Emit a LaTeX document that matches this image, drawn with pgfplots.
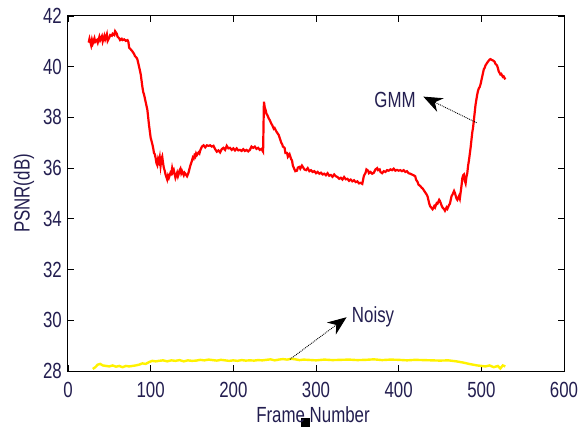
\documentclass[border=0pt]{standalone}
\usepackage{pgfplots}
\pgfplotsset{compat=1.18}
\usepackage{fontspec}
\setmainfont[FakeStretch=0.77]{Liberation Sans}
\usetikzlibrary{arrows.meta}
\definecolor{txt}{RGB}{35,30,80}
\begin{document}
\begin{tikzpicture}[font=\fontsize{22}{24}\selectfont]
\useasboundingbox (-68bp,-58bp) rectangle (518bp,371bp);
\begin{axis}[
  scale only axis, width=496bp, height=355bp,
  xmin=0, xmax=600, ymin=28, ymax=42,
  xtick={0,100,...,600}, ytick={28,30,...,42},
  tick align=inside, major tick length=6bp,
  axis line style={line width=1bp, black},
  every tick/.style={black, line width=0.9bp},
  /pgf/number format/assume math mode=true,
  every tick label/.append style={inner sep=0pt, text=txt},
  yticklabel style={xshift=-6bp},
  xticklabel style={yshift=-11bp},
  xlabel={Frame Number}, ylabel={PSNR(dB)},
  every axis x label/.style={at={(axis description cs:0.5,0)}, anchor=center, yshift=-44bp, xshift=-3bp, text=txt},
  every axis y label/.style={at={(axis description cs:0,0.5)}, anchor=center, xshift=-44bp, rotate=90, text=txt},
  clip=false,
]
\addplot[red, line width=2.2bp, line join=miter] coordinates {
(25,40.95)(26,41.1)(28,40.85)(29,41.05)(30,40.92)(32,41.12)(33,40.98)(35,41.05)(36,40.95)(38,41.18)(39,41.05)
(41,41.2)(42,41.0)(44,41.22)(45,41.08)(47,41.28)(48,41.02)(50,41.15)(51,41.25)(53,41.22)(54,41.3)(56,41.25)(57,41.4)
(59,41.3)(60,41.18)(62,41.12)(63,41.05)(65,41.1)(66,41.05)(68,41.08)(70,41.02)(72,41.05)(73,40.98)(74,40.75)(76,40.68)
(78,40.6)(80,40.5)(81,40.42)(83,40.35)(84,40.28)(86,40.0)(88,39.7)(89,39.45)(90,39.2)(91,39.0)(92,38.9)(94,38.6)
(95,38.45)(96,38.3)(97,38.0)(98,37.7)(99,37.45)(100,37.2)(102,36.95)(103,36.8)(104,36.6)(105,36.55)(106,36.4)
(107,36.2)(108,36.12)(109,36.35)(110,36.25)(111,36.42)(112,36.1)(113,36.35)(114,36.45)(115,36.2)(116,36.0)(117,35.9)
(118,35.75)(120,35.55)(121,35.7)(122,35.62)(124,35.82)(125,35.78)(126,36.0)(127,35.85)(128,35.92)(130,35.62)
(131,35.72)(132,35.82)(133,35.68)(134,35.78)(135,35.92)(136,35.98)(137,35.8)(138,35.88)(140,35.72)(141,35.82)
(142,35.78)(144,35.68)(145,35.75)(146,35.85)(147,35.98)(148,36.1)(149,36.2)(150,36.3)(151,36.42)(152,36.38)
(153,36.5)(154,36.45)(155,36.58)(156,36.52)(158,36.62)(159,36.58)(160,36.7)(162,36.85)(164,36.9)(166,36.82)
(168,36.9)(170,36.88)(172,36.9)(174,36.85)(176,36.88)(178,36.75)(180,36.65)(182,36.7)(184,36.62)(186,36.75)
(188,36.8)(190,36.72)(192,36.88)(194,36.78)(196,36.8)(198,36.72)(200,36.78)(202,36.7)(204,36.78)(206,36.7)
(208,36.72)(210,36.68)(212,36.75)(214,36.68)(216,36.72)(218,36.66)(220,36.72)(222,36.85)(224,36.8)(226,36.85)
(228,36.76)(230,36.8)(232,36.72)(234,36.76)(236,36.65)
(237,38.62)(238,38.4)(239,38.3)(240,38.15)(241,38.1)(243,37.95)(244,37.9)(246,37.75)(247,37.7)(249,37.55)
(250,37.58)(252,37.45)(253,37.4)(255,37.3)(256,37.2)(258,37.0)(259,36.95)(260,36.85)(262,36.8)(263,36.6)
(265,36.6)(266,36.45)(268,36.55)(270,36.35)(271,36.3)(272,36.1)(274,35.95)(275,35.88)(277,35.9)(278,36.02)
(280,36.05)(281,35.98)(283,36.1)(285,36.0)(286,35.95)(288,35.92)(290,36.0)(292,35.88)(294,35.92)(296,35.85)
(298,35.88)(300,35.8)(302,35.85)(304,35.78)(306,35.82)(308,35.75)(310,35.78)(312,35.72)(314,35.8)(316,35.7)
(318,35.73)(320,35.66)(322,35.75)(324,35.68)(326,35.65)(328,35.58)(330,35.62)(332,35.55)(334,35.65)(336,35.56)
(338,35.58)(340,35.5)(342,35.55)(344,35.48)(346,35.52)(348,35.45)(350,35.48)(352,35.4)(354,35.42)(356,35.38)
(357,35.55)(358,35.7)(360,35.82)(361,35.95)(363,35.9)(364,35.8)(366,35.85)(368,35.78)(370,35.82)(372,35.95)
(374,36.0)(375,35.92)(377,35.95)(378,35.85)(380,35.8)(382,35.88)(384,35.85)(386,35.92)(388,35.9)(390,35.95)
(392,35.92)(394,35.98)(396,35.9)(398,35.93)(400,35.9)(402,35.92)(404,35.88)(406,35.92)(408,35.85)(410,35.88)
(412,35.8)(414,35.78)(416,35.75)(418,35.72)(420,35.68)(421,35.55)(423,35.45)(424,35.35)(426,35.3)(428,35.22)
(429,35.2)(431,35.1)(432,35.05)(434,34.95)(435,34.88)(437,34.6)(438,34.5)(440,34.42)(441,34.38)(443,34.5)
(444,34.45)(446,34.62)(447,34.6)(449,34.75)(450,34.7)(452,34.52)(453,34.45)(455,34.38)(456,34.32)(458,34.45)
(459,34.4)(461,34.55)(462,34.6)(464,34.9)(465,34.95)(467,35.1)(468,35.02)(470,34.8)(471,34.75)(473,34.9)
(474,34.8)(476,35.3)(477,35.6)(478,35.72)(479,35.75)(480,35.5)(481,35.4)(482,35.65)(483,35.8)(484,36.1)
(485,36.3)(486,36.55)(487,36.8)(488,37.1)(489,37.4)(490,37.6)(491,37.9)(492,38.2)(493,38.5)(494,38.7)
(495,38.9)(496,39.05)(497,39.15)(498,39.2)(499,39.3)(500,39.45)(501,39.6)(502,39.75)(503,39.9)(504,39.95)
(505,40.05)(507,40.15)(508,40.2)(510,40.28)(511,40.3)(513,40.26)(514,40.25)(516,40.2)(517,40.12)(519,40.05)
(520,39.95)(521,39.82)(523,39.7)(524,39.72)(526,39.6)(527,39.62)(529,39.5)
};
\addplot[yellow, line width=2.4bp] coordinates {
(30,28.08)(33,28.15)(36,28.25)(39,28.28)(42,28.22)(46,28.2)(50,28.18)(54,28.22)(58,28.17)(62,28.2)
(66,28.15)(70,28.2)(74,28.18)(78,28.2)(82,28.22)(86,28.25)(90,28.3)(94,28.28)(98,28.35)(102,28.4)
(106,28.38)(110,28.4)(115,28.42)(120,28.38)(125,28.42)(130,28.4)(135,28.43)(140,28.38)(145,28.42)(150,28.4)
(155,28.41)(160,28.44)(165,28.42)(170,28.45)(175,28.43)(180,28.41)(185,28.44)(190,28.42)(195,28.4)(200,28.42)
(205,28.4)(210,28.43)(215,28.41)(220,28.42)(225,28.41)(230,28.43)(235,28.42)(240,28.44)(245,28.46)(250,28.42)
(255,28.45)(260,28.47)(265,28.45)(270,28.48)(275,28.46)(280,28.43)(285,28.45)(290,28.44)(300,28.42)(310,28.45)
(320,28.43)(330,28.44)(340,28.45)(350,28.43)(360,28.44)(370,28.46)(380,28.43)(390,28.45)(400,28.44)(410,28.42)
(420,28.44)(430,28.43)(440,28.42)(450,28.41)(460,28.42)(470,28.38)(480,28.32)(485,28.28)(490,28.25)(495,28.22)
(500,28.2)(505,28.18)(510,28.22)(515,28.15)(520,28.2)(523,28.1)(526,28.22)(529,28.18)
};
\node[text=txt] at (axis cs:395.6,38.69) {GMM};
\node[text=txt] at (axis cs:369,30.14) {Noisy};
\draw[densely dotted, line width=0.9bp, -{Stealth[length=19bp,width=15bp]}] (axis cs:494.3,37.79) -- (axis cs:429.8,38.82);
\draw[densely dotted, line width=0.9bp, -{Stealth[length=19bp,width=15bp]}] (axis cs:268.5,28.46) -- (axis cs:337,30.12);
\fill[black] ([xshift=233bp,yshift=-56bp]rel axis cs:0,0) rectangle ++(9bp,9bp);
\end{axis}
\end{tikzpicture}
\end{document}
